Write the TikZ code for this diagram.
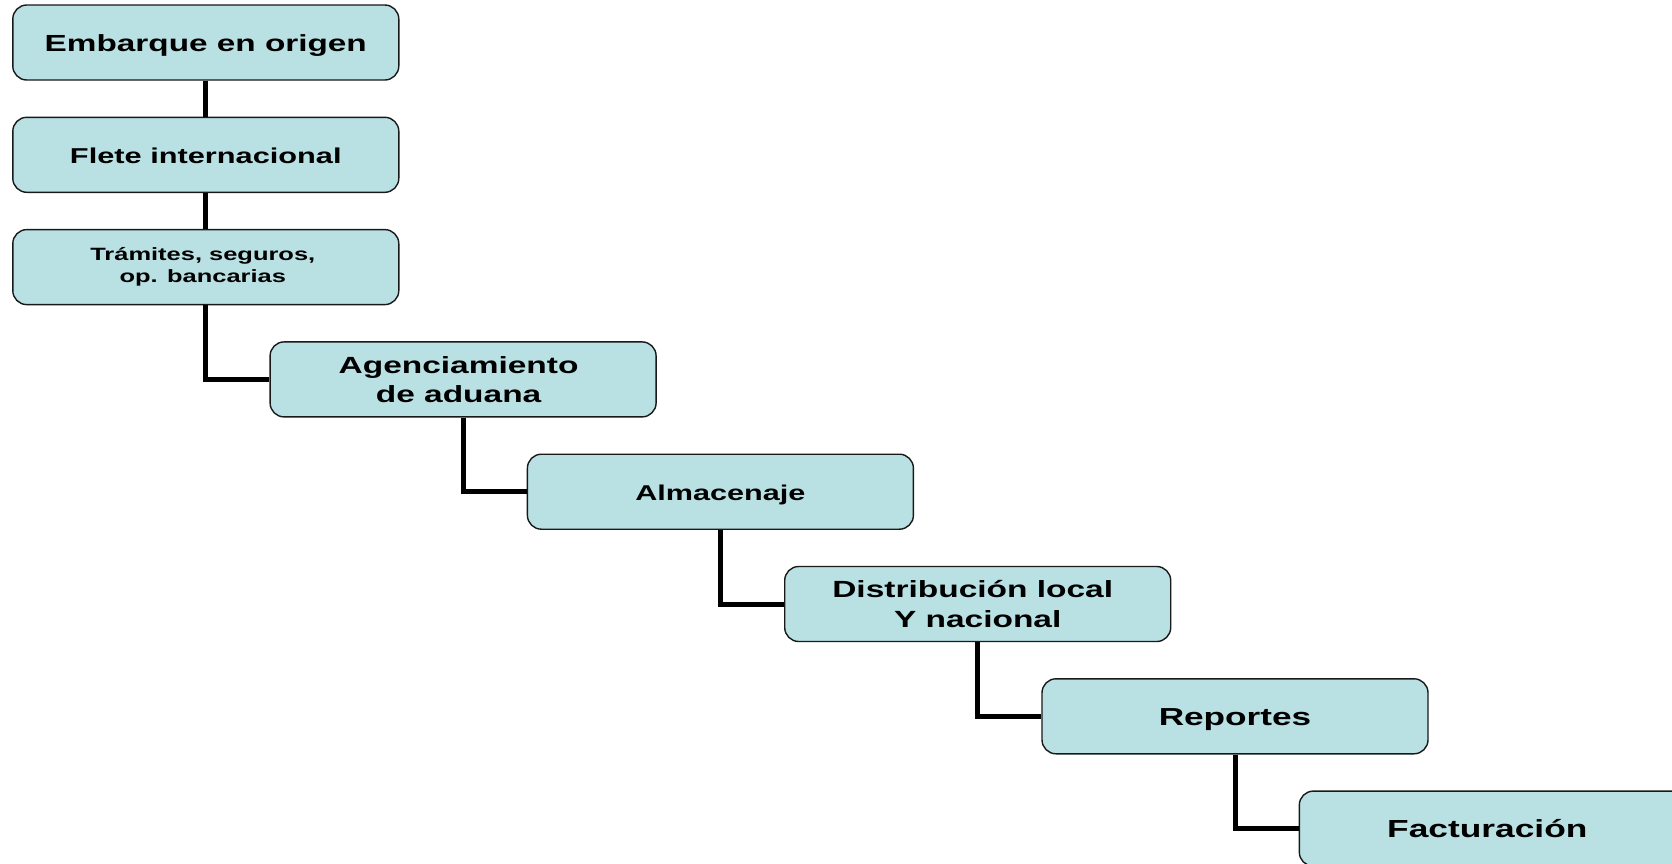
\documentclass[tikz,border=0pt]{standalone}
\usepackage{fontspec}
\setmainfont[FakeStretch=1.43]{Liberation Sans}
\definecolor{boxfill}{RGB}{185,224,227}
\definecolor{boxline}{RGB}{25,25,25}
\tikzset{
  stepbox/.style={draw=boxline, line width=1.4pt, fill=boxfill, rounded corners=14pt,
    minimum width=386pt, minimum height=75pt, inner sep=0pt, align=center},
  fsz/.style 2 args={font=\bfseries\fontsize{#1}{#2}\selectfont},
  oneline/.style={text height=18pt, text depth=0pt},
  link/.style={line width=5pt, draw=black}
}
\begin{document}
\begin{tikzpicture}[x=1pt,y=-1pt]
\clip (0,0) rectangle (1672,863);
\fill[white] (0,0) rectangle (1672,863);
\node[stepbox,oneline,fsz={23.3}{29}] (n1) at (205.8,42.5) {Embarque en origen};
\node[stepbox,oneline,fsz={21.5}{27}] (n2) at (205.8,154.8) {Flete internacional};
\node[stepbox,fsz={17.8}{22.3}] (n3) at (205.8,267.1) {Trámites, seguros,\hspace*{6pt}\\op. bancarias\hspace*{6pt}};
\node[stepbox,fsz={23.4}{29.2}] (n4) at (463.1,379.4) {Agenciamiento\hspace*{9pt}\\de aduana\hspace*{9pt}};
\node[stepbox,oneline,fsz={21.4}{27}] (n5) at (720.4,491.7) {Almacenaje};
\node[stepbox,fsz={23.4}{29.4}] (n6) at (977.7,604.0) {Distribución local\hspace*{10pt}\\Y nacional};
\node[stepbox,oneline,fsz={24.6}{30}] (n7) at (1235.0,716.3) {Reportes};
\node[stepbox,oneline,fsz={24.7}{30}] (n8) at (1492.3,828.6) {Facturación\hspace*{10pt}};
\draw[link] (n1.south) -- (n2.north);
\draw[link] (n2.south) -- (n3.north);
\draw[link] (n3.south) |- (n4.west);
\draw[link] (n4.south) |- (n5.west);
\draw[link] (n5.south) |- (n6.west);
\draw[link] (n6.south) |- (n7.west);
\draw[link] (n7.south) |- (n8.west);
\end{tikzpicture}
\end{document}
